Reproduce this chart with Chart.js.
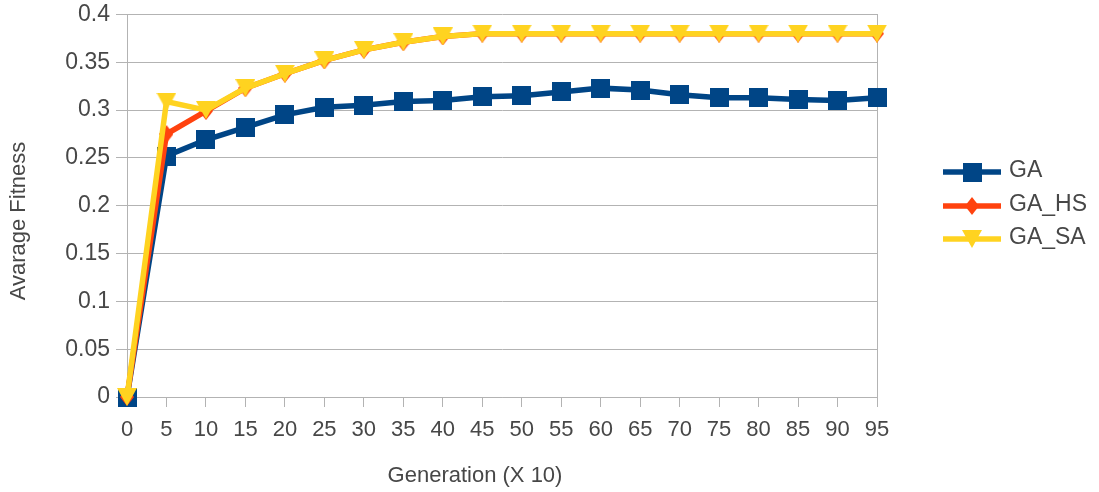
<!DOCTYPE html>
<html>
<head>
<meta charset="utf-8">
<script src="https://cdn.jsdelivr.net/npm/chart.js@4/dist/chart.umd.min.js"></script>
<style>
  html, body { margin: 0; padding: 0; background: #ffffff; }
  #wrap { width: 1099px; height: 492px; }
</style>
</head>
<body>
<div id="wrap"><canvas id="c" width="1099" height="492"></canvas></div>
<script>
// Generations (in units of 10)
const generations = [0, 5, 10, 15, 20, 25, 30, 35, 40, 45, 50, 55, 60, 65, 70, 75, 80, 85, 90, 95];

// Average fitness per algorithm
const seriesGA   = [0, 0.252, 0.269, 0.282, 0.295, 0.303, 0.305, 0.309, 0.310, 0.314, 0.315, 0.319, 0.323, 0.321, 0.316, 0.313, 0.313, 0.311, 0.310, 0.313];
const seriesGAHS = [0, 0.275, 0.299, 0.323, 0.338, 0.352, 0.363, 0.371, 0.377, 0.380, 0.380, 0.380, 0.380, 0.380, 0.380, 0.380, 0.380, 0.380, 0.380, 0.380];
const seriesGASA = [0, 0.309, 0.300, 0.323, 0.338, 0.352, 0.363, 0.371, 0.377, 0.380, 0.380, 0.380, 0.380, 0.380, 0.380, 0.380, 0.380, 0.380, 0.380, 0.380];

const seriesNames = ['GA', 'GA_HS', 'GA_SA'];
const yTicks = [0, 0.05, 0.1, 0.15, 0.2, 0.25, 0.3, 0.35, 0.4];
const yTickLabels = ['0', '0.05', '0.1', '0.15', '0.2', '0.25', '0.3', '0.35', '0.4'];

const BLUE = '#004586', ORANGE = '#ff420e', YELLOW = '#ffd320';
const GRID = '#b3b3b3', TEXT = '#474747';
const FONT = "'Liberation Sans', Arial, sans-serif";

// Marker sprites
function sprite(w, h, draw) {
  const cv = document.createElement('canvas');
  cv.width = w; cv.height = h;
  const g = cv.getContext('2d');
  draw(g, w, h);
  return cv;
}
const squareMark = sprite(19, 19, (g, w, h) => { g.fillStyle = BLUE; g.fillRect(0, 0, w, h); });
const diamondMark = sprite(14, 18, (g, w, h) => {
  g.fillStyle = ORANGE; g.beginPath();
  g.moveTo(w / 2, 0); g.lineTo(w, h / 2); g.lineTo(w / 2, h); g.lineTo(0, h / 2);
  g.closePath(); g.fill();
});
const triangleMark = sprite(20, 18, (g, w, h) => {
  g.fillStyle = YELLOW; g.beginPath();
  g.moveTo(0, 0); g.lineTo(w, 0); g.lineTo(w / 2, h);
  g.closePath(); g.fill();
});

// Axis titles and legend drawn on the canvas
const decorations = {
  id: 'decorations',
  afterDraw(chart) {
    const ctx = chart.ctx;
    ctx.save();
    ctx.fillStyle = TEXT;
    ctx.font = '22px ' + FONT;
    ctx.textAlign = 'center';
    ctx.textBaseline = 'middle';
    ctx.fillText('Generation (X 10)', 475, 476);
    ctx.save();
    ctx.translate(19, 221);
    ctx.rotate(-Math.PI / 2);
    ctx.fillText('Avarage Fitness', 0, 0);
    ctx.restore();

    const rows = [172, 206, 239];
    ctx.font = '23px ' + FONT;
    ctx.textAlign = 'left';
    chart.data.datasets.forEach((ds, i) => {
      const y = rows[i];
      ctx.strokeStyle = ds.borderColor;
      ctx.lineWidth = 5.5;
      ctx.beginPath(); ctx.moveTo(943, y); ctx.lineTo(1001, y); ctx.stroke();
      const m = ds.pointStyle;
      ctx.drawImage(m, 972 - m.width / 2, y - m.height / 2);
      ctx.fillStyle = TEXT;
      ctx.fillText(ds.label, 1009, y - 1);
    });
    ctx.restore();
  }
};

new Chart(document.getElementById('c'), {
  type: 'line',
  data: {
    labels: generations,
    datasets: [
      { label: seriesNames[0], data: seriesGA, borderColor: BLUE, backgroundColor: BLUE,
        borderWidth: 5.5, pointStyle: squareMark, pointRadius: 9, order: 3, clip: false },
      { label: seriesNames[1], data: seriesGAHS, borderColor: ORANGE, backgroundColor: ORANGE,
        borderWidth: 5.5, pointStyle: diamondMark, pointRadius: 8, order: 2, clip: false },
      { label: seriesNames[2], data: seriesGASA, borderColor: YELLOW, backgroundColor: YELLOW,
        borderWidth: 5.5, pointStyle: triangleMark, pointRadius: 9, order: 1, clip: false }
    ]
  },
  options: {
    responsive: false,
    animation: false,
    devicePixelRatio: 1,
    layout: { padding: { left: 0, right: 222, top: 12.5, bottom: 0 } },
    plugins: { legend: { display: false }, tooltip: { enabled: false } },
    elements: { line: { tension: 0 } },
    scales: {
      x: {
        type: 'category',
        offset: false,
        grid: { display: true, drawOnChartArea: false, drawTicks: true, tickLength: 10, color: GRID, lineWidth: 1 },
        border: { display: true, color: GRID, width: 1 },
        ticks: { color: TEXT, font: { family: FONT, size: 22 }, padding: 10, maxRotation: 0, autoSkip: false },
        afterFit(s) { s.height = 95; s.paddingLeft = 0; s.paddingRight = 0; }
      },
      y: {
        min: 0, max: 0.4,
        afterBuildTicks(s) { s.ticks = yTicks.map(v => ({ value: v })); },
        grid: { color: GRID, lineWidth: 1, tickLength: 11 },
        border: { display: true, color: GRID, width: 1 },
        ticks: {
          color: TEXT, font: { family: FONT, size: 23 }, padding: 6,
          callback: (v, i) => yTickLabels[i]
        },
        afterFit(s) { s.width = 127; s.paddingTop = 0; s.paddingBottom = 0; }
      },
      yRight: {
        position: 'right',
        min: 0, max: 0.4,
        grid: { display: false },
        border: { display: true, color: GRID, width: 1 },
        ticks: { display: false },
        afterFit(s) { s.width = 0; }
      }
    }
  },
  plugins: [decorations]
});
</script>
</body>
</html>
